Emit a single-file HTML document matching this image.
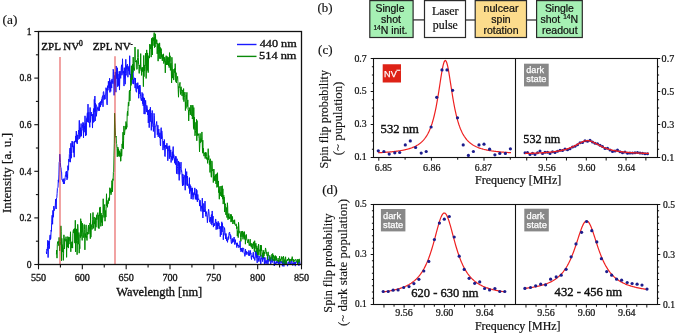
<!DOCTYPE html>
<html><head><meta charset="utf-8"><style>html,body{margin:0;padding:0;background:#fff;width:675px;height:333px;overflow:hidden;position:relative} text{stroke:#111;stroke-width:.22px} text.w{stroke:#fff;stroke-width:.25px}</style></head><body>
<svg width="675" height="333" viewBox="0 0 675 333" style="position:absolute;left:0;top:0;filter:blur(0.25px)">
<rect width="675" height="333" fill="#fff"/>
<polyline points="46.30,251.68 46.60,253.96 46.90,249.20 47.20,250.43 47.50,246.36 47.80,240.26 48.10,257.55 48.40,245.49 48.70,241.09 49.00,243.41 49.30,248.68 49.60,240.69 49.90,235.95 50.20,234.88 50.50,239.53 50.80,238.15 51.10,230.08 51.40,231.40 51.70,222.14 52.00,215.20 52.30,215.32 52.60,224.25 52.90,210.40 53.20,217.31 53.50,215.04 53.80,206.12 54.10,210.78 54.40,210.18 54.70,209.02 55.00,207.92 55.30,205.18 55.60,199.17 55.90,207.03 56.20,209.02 56.50,198.06 56.80,197.62 57.10,193.70 57.40,188.34 57.70,187.75 58.00,187.20 58.30,179.88 58.60,182.29 58.90,174.96 59.20,162.52 59.50,161.30 59.80,154.16 60.10,157.98 60.40,162.44 60.70,167.21 61.00,167.76 61.30,172.01 61.60,172.05 61.90,179.72 62.20,179.58 62.50,180.60 62.80,181.57 63.10,179.22 63.40,183.92 63.70,183.18 64.00,178.52 64.30,183.84 64.60,181.30 64.90,180.96 65.20,177.33 65.50,174.67 65.80,174.55 66.10,171.64 66.40,177.05 66.70,171.06 67.00,179.88 67.30,174.49 67.60,178.24 67.90,165.66 68.20,170.36 68.50,169.78 68.80,159.15 69.10,161.77 69.40,154.39 69.70,153.46 70.00,148.07 70.30,162.17 70.60,151.58 70.90,143.26 71.20,158.27 71.50,153.58 71.80,147.69 72.10,141.07 72.40,147.09 72.70,143.05 73.00,141.65 73.30,152.65 73.60,149.12 73.90,145.66 74.20,157.19 74.50,141.40 74.80,142.22 75.10,140.86 75.40,142.08 75.70,135.93 76.00,140.86 76.30,131.06 76.60,142.48 76.90,134.72 77.20,143.94 77.50,139.16 77.80,134.93 78.10,139.59 78.40,132.76 78.70,130.14 79.00,134.04 79.30,120.35 79.60,138.69 79.90,137.15 80.20,127.58 80.50,129.38 80.80,136.68 81.10,123.52 81.40,135.91 81.70,130.47 82.00,130.61 82.30,128.69 82.60,124.20 82.90,122.18 83.20,122.44 83.50,137.84 83.80,123.44 84.10,132.24 84.40,126.19 84.70,129.21 85.00,115.84 85.30,123.92 85.60,135.87 85.90,123.06 86.20,135.19 86.50,118.21 86.80,118.42 87.10,115.64 87.40,112.71 87.70,121.94 88.00,104.10 88.30,122.56 88.60,120.27 88.90,112.23 89.20,121.48 89.50,121.97 89.80,127.32 90.10,107.49 90.40,122.34 90.70,118.59 91.00,113.59 91.30,112.05 91.60,116.00 91.90,115.04 92.20,115.46 92.50,128.06 92.80,114.02 93.10,122.70 93.40,110.51 93.70,108.47 94.00,121.91 94.30,99.38 94.60,111.91 94.90,96.06 95.20,120.96 95.50,103.23 95.80,111.39 96.10,104.63 96.40,116.31 96.70,112.67 97.00,111.37 97.30,110.03 97.60,107.94 97.90,106.77 98.20,107.25 98.50,110.55 98.80,110.71 99.10,103.07 99.40,110.70 99.70,102.33 100.00,102.66 100.30,107.11 100.60,101.41 100.90,105.23 101.20,104.86 101.50,99.59 101.80,102.90 102.10,97.39 102.40,96.63 102.70,95.63 103.00,106.80 103.30,92.32 103.60,91.57 103.90,93.21 104.20,99.63 104.50,95.28 104.80,96.58 105.10,99.21 105.40,94.28 105.70,94.50 106.00,87.69 106.30,89.87 106.60,88.79 106.90,103.76 107.20,104.87 107.50,85.73 107.80,90.21 108.10,90.22 108.40,81.24 108.70,86.89 109.00,88.00 109.30,88.23 109.60,78.24 109.90,92.41 110.20,81.83 110.50,90.02 110.80,91.37 111.10,80.25 111.40,84.55 111.70,88.07 112.00,78.90 112.30,81.91 112.60,81.04 112.90,83.66 113.20,69.28 113.50,71.19 113.80,80.03 114.10,95.33 114.40,84.84 114.70,75.38 115.00,85.40 115.30,71.91 115.60,80.88 115.90,92.20 116.20,65.98 116.50,74.94 116.80,78.78 117.10,72.02 117.40,67.78 117.70,86.77 118.00,74.05 118.30,85.29 118.60,78.27 118.90,85.71 119.20,71.32 119.50,90.05 119.80,77.96 120.10,71.14 120.40,75.29 120.70,78.36 121.00,74.25 121.30,67.36 121.60,64.80 121.90,75.23 122.20,73.97 122.50,58.79 122.80,69.97 123.10,73.27 123.40,71.50 123.70,71.08 124.00,86.08 124.30,67.68 124.60,78.42 124.90,73.86 125.20,84.22 125.50,73.31 125.80,59.30 126.10,75.40 126.40,65.62 126.70,69.23 127.00,68.84 127.30,64.17 127.60,65.34 127.90,77.22 128.20,66.36 128.50,67.82 128.80,70.90 129.10,68.87 129.40,74.34 129.70,55.72 130.00,74.75 130.30,74.03 130.60,78.17 130.90,81.75 131.20,74.45 131.50,68.99 131.80,78.24 132.10,83.72 132.40,74.43 132.70,69.35 133.00,65.03 133.30,78.17 133.60,84.11 133.90,79.18 134.20,78.55 134.50,77.80 134.80,80.16 135.10,88.07 135.40,78.07 135.70,85.51 136.00,91.51 136.30,91.65 136.60,92.25 136.90,83.18 137.20,88.66 137.50,87.89 137.80,82.65 138.10,88.27 138.40,86.04 138.70,98.26 139.00,87.75 139.30,85.30 139.60,93.85 139.90,85.08 140.20,86.78 140.50,96.71 140.80,97.99 141.10,99.84 141.40,100.80 141.70,97.60 142.00,92.40 142.30,93.27 142.60,103.66 142.90,93.64 143.20,105.84 143.50,97.53 143.80,98.70 144.10,114.05 144.40,97.90 144.70,101.53 145.00,114.16 145.30,106.39 145.60,100.39 145.90,104.54 146.20,109.08 146.50,112.10 146.80,105.40 147.10,106.96 147.40,108.81 147.70,115.01 148.00,111.06 148.30,123.00 148.60,109.99 148.90,114.43 149.20,127.65 149.50,118.12 149.80,109.21 150.10,117.64 150.40,107.19 150.70,121.67 151.00,113.01 151.30,130.35 151.60,121.30 151.90,126.67 152.20,110.48 152.50,122.02 152.80,123.83 153.10,124.42 153.40,131.48 153.70,125.44 154.00,113.33 154.30,115.34 154.60,125.09 154.90,137.86 155.20,126.23 155.50,126.42 155.80,126.10 156.10,124.99 156.40,123.27 156.70,121.48 157.00,127.32 157.30,134.71 157.60,132.36 157.90,125.22 158.20,136.85 158.50,131.61 158.80,129.05 159.10,132.82 159.40,136.69 159.70,137.93 160.00,132.77 160.30,145.03 160.60,145.83 160.90,130.10 161.20,127.67 161.50,138.83 161.80,130.86 162.10,134.04 162.40,138.22 162.70,138.92 163.00,150.09 163.30,141.14 163.60,144.35 163.90,145.70 164.20,148.12 164.50,139.58 164.80,156.01 165.10,156.56 165.40,147.08 165.70,145.11 166.00,146.62 166.30,145.16 166.60,148.63 166.90,143.18 167.20,148.41 167.50,146.96 167.80,160.76 168.10,145.85 168.40,151.08 168.70,151.39 169.00,151.90 169.30,158.78 169.60,145.74 169.90,150.09 170.20,156.74 170.50,151.15 170.80,149.88 171.10,162.51 171.40,156.53 171.70,158.71 172.00,155.25 172.30,151.80 172.60,160.32 172.90,150.76 173.20,146.59 173.50,157.69 173.80,154.68 174.10,159.07 174.40,158.63 174.70,163.22 175.00,161.86 175.30,156.26 175.60,164.67 175.90,156.90 176.20,156.43 176.50,173.63 176.80,167.45 177.10,158.75 177.40,166.51 177.70,168.68 178.00,174.21 178.30,166.43 178.60,160.98 178.90,170.61 179.20,180.39 179.50,162.43 179.80,174.36 180.10,170.15 180.40,168.65 180.70,166.23 181.00,162.10 181.30,171.37 181.60,170.58 181.90,173.09 182.20,180.96 182.50,185.98 182.80,173.94 183.10,178.08 183.40,177.14 183.70,185.32 184.00,174.93 184.30,175.70 184.60,175.90 184.90,180.16 185.20,190.22 185.50,168.73 185.80,184.48 186.10,176.75 186.40,177.97 186.70,171.58 187.00,185.50 187.30,176.10 187.60,185.75 187.90,183.74 188.20,185.17 188.50,185.56 188.80,187.13 189.10,188.51 189.40,177.61 189.70,193.60 190.00,184.52 190.30,191.29 190.60,185.93 190.90,186.49 191.20,199.07 191.50,191.61 191.80,187.83 192.10,195.02 192.40,187.91 192.70,197.05 193.00,199.44 193.30,197.82 193.60,193.21 193.90,192.53 194.20,194.72 194.50,193.00 194.80,187.88 195.10,196.69 195.40,199.38 195.70,193.84 196.00,196.45 196.30,189.16 196.60,199.62 196.90,190.31 197.20,201.51 197.50,201.85 197.80,194.45 198.10,198.69 198.40,199.86 198.70,198.71 199.00,200.08 199.30,200.45 199.60,206.08 199.90,200.47 200.20,200.18 200.50,204.94 200.80,210.83 201.10,211.40 201.40,206.20 201.70,205.83 202.00,208.43 202.30,198.14 202.60,211.90 202.90,217.99 203.20,209.62 203.50,211.81 203.80,203.38 204.10,209.85 204.40,210.07 204.70,211.93 205.00,201.07 205.30,208.84 205.60,214.49 205.90,216.41 206.20,211.49 206.50,212.96 206.80,214.59 207.10,217.25 207.40,222.71 207.70,218.04 208.00,215.26 208.30,211.56 208.60,209.30 208.90,211.48 209.20,216.13 209.50,221.92 209.80,222.16 210.10,221.40 210.40,221.09 210.70,217.06 211.00,223.77 211.30,214.79 211.60,214.47 211.90,225.16 212.20,210.96 212.50,222.76 212.80,220.41 213.10,216.14 213.40,227.10 213.70,223.95 214.00,223.76 214.30,223.16 214.60,225.89 214.90,224.72 215.20,223.51 215.50,219.25 215.80,219.08 216.10,229.68 216.40,226.43 216.70,221.91 217.00,227.48 217.30,229.21 217.60,223.01 217.90,229.09 218.20,221.30 218.50,225.90 218.80,223.52 219.10,222.87 219.40,227.19 219.70,228.89 220.00,226.32 220.30,236.72 220.60,231.62 220.90,226.41 221.20,234.92 221.50,226.11 221.80,221.81 222.10,231.95 222.40,223.39 222.70,228.25 223.00,226.22 223.30,239.74 223.60,233.45 223.90,234.21 224.20,230.26 224.50,227.65 224.80,230.14 225.10,235.37 225.40,233.78 225.70,238.99 226.00,233.54 226.30,237.42 226.60,240.68 226.90,237.29 227.20,240.20 227.50,242.33 227.80,239.43 228.10,239.98 228.40,236.44 228.70,238.62 229.00,233.15 229.30,232.59 229.60,231.99 229.90,235.21 230.20,234.42 230.50,238.75 230.80,235.54 231.10,241.23 231.40,243.37 231.70,243.71 232.00,239.08 232.30,238.42 232.60,242.51 232.90,240.73 233.20,238.80 233.50,240.59 233.80,241.71 234.10,237.02 234.40,243.06 234.70,244.51 235.00,243.85 235.30,239.59 235.60,242.57 235.90,242.44 236.20,244.42 236.50,243.10 236.80,247.56 237.10,243.10 237.40,242.84 237.70,245.94 238.00,245.57 238.30,244.87 238.60,246.67 238.90,247.81 239.20,245.70 239.50,246.33 239.80,246.95 240.10,240.83 240.40,249.77 240.70,248.33 241.00,251.91 241.30,248.21 241.60,250.99 241.90,248.04 242.20,249.60 242.50,252.19 242.80,247.77 243.10,248.74 243.40,248.55 243.70,248.32 244.00,251.87 244.30,253.69 244.60,253.29 244.90,256.35 245.20,253.15 245.50,249.06 245.80,253.08 246.10,254.82 246.40,251.31 246.70,253.76 247.00,251.88 247.30,252.13 247.60,252.44 247.90,253.91 248.20,255.03 248.50,255.46 248.80,250.45 249.10,251.58 249.40,255.78 249.70,252.78 250.00,252.52 250.30,250.42 250.60,254.39 250.90,252.90 251.20,257.73 251.50,259.52 251.80,255.68 252.10,256.94 252.40,256.96 252.70,256.15 253.00,253.90 253.30,252.16 253.60,258.39 253.90,256.75 254.20,257.78 254.50,259.03 254.80,260.50 255.10,258.85 255.40,250.93 255.70,255.28 256.00,255.44 256.30,257.67 256.60,251.60 256.90,259.13 257.20,262.91 257.50,252.69 257.80,256.89 258.10,255.86 258.40,257.88 258.70,261.50 259.00,260.62 259.30,258.72 259.60,257.71 259.90,256.01 260.20,261.70 260.50,259.65 260.80,264.59 261.10,257.94 261.40,259.18 261.70,258.48 262.00,254.84 262.30,257.66 262.60,261.65 262.90,255.93 263.20,258.84 263.50,257.16 263.80,259.32 264.10,257.12 264.40,264.49 264.70,261.53 265.00,257.48 265.30,262.33 265.60,261.57 265.90,263.73 266.20,260.32 266.50,261.79 266.80,263.52 267.10,260.54 267.40,257.10 267.70,262.12 268.00,264.72 268.30,260.41 268.60,259.17 268.90,261.64 269.20,256.12 269.50,260.33 269.80,259.51 270.10,258.13 270.40,257.81 270.70,264.25 271.00,262.25 271.30,261.94 271.60,261.21 271.90,256.67 272.20,262.65 272.50,260.73 272.80,258.76 273.10,258.94 273.40,260.70 273.70,259.14 274.00,261.52 274.30,265.97 274.60,258.72 274.90,262.85 275.20,264.74 275.50,262.79 275.80,262.33 276.10,262.53 276.40,263.44 276.70,261.23 277.00,262.93 277.30,263.12 277.60,261.69 277.90,260.00 278.20,263.17 278.50,263.84 278.80,261.89 279.10,264.31 279.40,260.39 279.70,262.59 280.00,263.68 280.30,262.30 280.60,262.16 280.90,260.96 281.20,263.19 281.50,262.66 281.80,261.29 282.10,261.77 282.40,266.24 282.70,261.66 283.00,265.09 283.30,261.29 283.60,260.62 283.90,266.48 284.20,261.08 284.50,262.15 284.80,264.48 285.10,260.60 285.40,264.33 285.70,262.35 286.00,263.00 286.30,263.00 286.60,261.11 286.90,263.61 287.20,263.93 287.50,266.16 287.80,264.52 288.10,262.92 288.40,261.98 288.70,261.72 289.00,264.21 289.30,263.14 289.60,258.92 289.90,260.90 290.20,263.38 290.50,263.91 290.80,262.64 291.10,264.83 291.40,260.30 291.70,261.37 292.00,261.05 292.30,262.46 292.60,265.33 292.90,265.57 293.20,264.69 293.50,262.64 293.80,264.01 294.10,262.28 294.40,263.84 294.70,262.98 295.00,261.94 295.30,266.13 295.60,262.72 295.90,262.86 296.20,261.67 296.50,262.35 296.80,262.59 297.10,261.77 297.40,261.69 297.70,262.85 298.00,263.17 298.30,261.67 298.60,263.15 298.90,265.68 299.20,264.11 299.50,259.75 299.80,263.26 300.10,263.04 300.40,263.48" fill="none" stroke="#1010ff" stroke-width="1.0" stroke-linejoin="miter"/>
<polyline points="56.40,254.33 56.70,250.07 57.00,258.15 57.30,244.92 57.60,241.88 57.90,242.50 58.20,241.23 58.50,243.46 58.80,245.70 59.10,237.40 59.40,246.70 59.70,250.74 60.00,245.11 60.30,244.91 60.60,241.15 60.90,225.85 61.20,231.67 61.50,260.78 61.80,238.35 62.10,243.25 62.40,244.93 62.70,252.05 63.00,248.25 63.30,260.41 63.60,253.41 63.90,234.83 64.20,241.44 64.50,248.95 64.80,238.65 65.10,241.35 65.40,240.98 65.70,240.19 66.00,236.68 66.30,238.61 66.60,257.35 66.90,239.42 67.20,246.59 67.50,247.15 67.80,236.55 68.10,239.50 68.40,248.08 68.70,237.26 69.00,244.17 69.30,237.26 69.60,237.50 69.90,238.27 70.20,241.11 70.50,231.78 70.80,251.77 71.10,241.81 71.40,243.76 71.70,247.97 72.00,245.38 72.30,241.66 72.60,248.12 72.90,233.54 73.20,230.75 73.50,229.52 73.80,233.02 74.10,233.25 74.40,228.52 74.70,243.12 75.00,242.57 75.30,220.27 75.60,251.92 75.90,229.99 76.20,243.10 76.50,228.88 76.80,232.61 77.10,254.68 77.40,240.59 77.70,224.34 78.00,228.20 78.30,244.21 78.60,240.04 78.90,232.53 79.20,253.18 79.50,244.32 79.80,248.75 80.10,234.60 80.40,237.67 80.70,218.71 81.00,228.66 81.30,221.32 81.60,236.24 81.90,235.60 82.20,240.40 82.50,223.29 82.80,232.09 83.10,232.37 83.40,237.51 83.70,237.62 84.00,224.59 84.30,224.47 84.60,229.38 84.90,249.85 85.20,233.61 85.50,237.24 85.80,232.86 86.10,224.86 86.40,237.66 86.70,235.88 87.00,240.49 87.30,232.07 87.60,234.61 87.90,231.31 88.20,227.61 88.50,225.00 88.80,234.13 89.10,232.30 89.40,227.48 89.70,228.47 90.00,222.94 90.30,238.68 90.60,213.42 90.90,237.18 91.20,227.84 91.50,227.31 91.80,224.52 92.10,229.43 92.40,225.56 92.70,219.34 93.00,212.44 93.30,224.71 93.60,228.40 93.90,219.13 94.20,216.98 94.50,224.07 94.80,221.57 95.10,230.74 95.40,227.66 95.70,217.76 96.00,227.27 96.30,220.22 96.60,215.23 96.90,219.63 97.20,214.05 97.50,213.64 97.80,212.65 98.10,225.93 98.40,228.13 98.70,214.85 99.00,228.66 99.30,216.64 99.60,207.74 99.90,216.43 100.20,206.93 100.50,214.14 100.80,226.36 101.10,213.06 101.40,218.94 101.70,222.48 102.00,215.09 102.30,225.88 102.60,220.76 102.90,214.72 103.20,198.75 103.50,210.03 103.80,215.21 104.10,217.48 104.40,206.59 104.70,204.47 105.00,221.22 105.30,215.97 105.60,210.50 105.90,217.08 106.20,206.48 106.50,193.77 106.80,205.83 107.10,200.42 107.40,207.31 107.70,203.36 108.00,202.49 108.30,203.61 108.60,198.47 108.90,198.58 109.20,197.52 109.50,200.59 109.80,187.72 110.10,193.26 110.40,192.31 110.70,188.62 111.00,194.78 111.30,193.57 111.60,189.28 111.90,180.65 112.20,182.59 112.50,191.79 112.80,178.80 113.10,180.44 113.40,172.35 113.70,171.98 114.00,155.13 114.30,143.16 114.60,113.21 114.90,120.87 115.20,127.92 115.50,135.49 115.80,137.27 116.10,136.03 116.40,143.70 116.70,144.22 117.00,148.43 117.30,156.82 117.60,148.46 117.90,147.03 118.20,153.88 118.50,148.78 118.80,156.32 119.10,151.62 119.40,155.55 119.70,150.75 120.00,156.79 120.30,152.63 120.60,161.22 120.90,161.10 121.20,149.02 121.50,156.30 121.80,156.02 122.10,143.92 122.40,147.86 122.70,140.87 123.00,132.17 123.30,149.06 123.60,140.59 123.90,125.96 124.20,133.90 124.50,134.89 124.80,131.47 125.10,128.52 125.40,125.91 125.70,129.37 126.00,121.53 126.30,129.11 126.60,123.65 126.90,127.35 127.20,114.12 127.50,111.10 127.80,115.75 128.10,107.63 128.40,102.25 128.70,106.01 129.00,102.90 129.30,91.30 129.60,90.28 129.90,100.98 130.20,91.16 130.50,91.01 130.80,77.86 131.10,85.39 131.40,65.73 131.70,79.60 132.00,66.95 132.30,79.50 132.60,64.03 132.90,72.47 133.20,57.14 133.50,69.57 133.80,69.74 134.10,68.65 134.40,70.51 134.70,66.96 135.00,47.01 135.30,60.82 135.60,62.08 135.90,61.13 136.20,61.73 136.50,60.46 136.80,69.40 137.10,69.01 137.40,60.11 137.70,57.46 138.00,49.41 138.30,57.48 138.60,64.34 138.90,66.50 139.20,73.41 139.50,65.13 139.80,65.28 140.10,68.84 140.40,67.68 140.70,53.59 141.00,70.41 141.30,69.28 141.60,75.41 141.90,67.45 142.20,71.19 142.50,67.45 142.80,71.64 143.10,68.56 143.40,86.63 143.70,55.44 144.00,76.66 144.30,64.95 144.60,70.90 144.90,66.66 145.20,65.81 145.50,53.20 145.80,66.63 146.10,78.47 146.40,73.17 146.70,49.89 147.00,58.46 147.30,70.54 147.60,52.95 147.90,60.66 148.20,72.64 148.50,60.01 148.80,55.76 149.10,56.06 149.40,58.10 149.70,44.16 150.00,47.21 150.30,47.40 150.60,48.85 150.90,44.50 151.20,57.13 151.50,38.39 151.80,48.32 152.10,50.57 152.40,54.99 152.70,37.33 153.00,45.74 153.30,38.05 153.60,40.64 153.90,36.80 154.20,32.66 154.50,47.67 154.80,37.21 155.10,47.05 155.40,33.83 155.70,40.34 156.00,44.00 156.30,42.85 156.60,39.66 156.90,39.89 157.20,53.85 157.50,45.52 157.80,43.17 158.10,61.16 158.40,49.58 158.70,43.86 159.00,55.92 159.30,58.68 159.60,42.86 159.90,51.04 160.20,53.01 160.50,47.52 160.80,58.94 161.10,48.56 161.40,51.37 161.70,57.31 162.00,54.24 162.30,60.84 162.60,55.29 162.90,56.00 163.20,59.13 163.50,53.84 163.80,63.55 164.10,59.59 164.40,61.47 164.70,57.22 165.00,62.90 165.30,72.88 165.60,60.82 165.90,58.14 166.20,55.68 166.50,64.93 166.80,61.90 167.10,56.39 167.40,64.79 167.70,57.66 168.00,59.68 168.30,57.28 168.60,65.85 168.90,60.86 169.20,67.66 169.50,52.62 169.80,61.52 170.10,55.81 170.40,70.42 170.70,63.82 171.00,63.21 171.30,70.48 171.60,82.91 171.90,57.27 172.20,64.88 172.50,77.99 172.80,78.15 173.10,69.16 173.40,75.95 173.70,80.07 174.00,77.54 174.30,70.87 174.60,68.54 174.90,72.81 175.20,63.62 175.50,70.68 175.80,81.68 176.10,72.71 176.40,82.95 176.70,80.69 177.00,78.99 177.30,78.47 177.60,76.38 177.90,81.47 178.20,89.60 178.50,97.21 178.80,86.44 179.10,87.87 179.40,83.98 179.70,84.22 180.00,82.33 180.30,90.83 180.60,94.53 180.90,87.21 181.20,86.82 181.50,91.55 181.80,93.90 182.10,96.05 182.40,89.97 182.70,90.09 183.00,93.85 183.30,99.65 183.60,88.55 183.90,101.64 184.20,97.65 184.50,95.62 184.80,92.04 185.10,92.41 185.40,110.60 185.70,101.89 186.00,108.45 186.30,95.00 186.60,99.31 186.90,92.33 187.20,106.63 187.50,104.92 187.80,99.89 188.10,109.58 188.40,110.03 188.70,120.95 189.00,113.49 189.30,107.56 189.60,111.03 189.90,109.65 190.20,114.82 190.50,113.04 190.80,105.14 191.10,114.70 191.40,115.19 191.70,115.76 192.00,105.20 192.30,119.03 192.60,117.66 192.90,105.29 193.20,115.27 193.50,128.37 193.80,107.59 194.10,129.54 194.40,117.20 194.70,128.55 195.00,135.78 195.30,133.34 195.60,130.60 195.90,122.31 196.20,130.60 196.50,119.33 196.80,140.77 197.10,120.58 197.40,135.54 197.70,133.51 198.00,134.33 198.30,135.13 198.60,133.77 198.90,136.65 199.20,138.75 199.50,151.83 199.80,146.05 200.10,133.40 200.40,142.87 200.70,142.60 201.00,138.58 201.30,141.59 201.60,140.62 201.90,131.94 202.20,139.84 202.50,152.67 202.80,140.15 203.10,153.45 203.40,148.25 203.70,153.43 204.00,156.16 204.30,154.33 204.60,152.87 204.90,152.69 205.20,158.56 205.50,152.39 205.80,156.31 206.10,152.49 206.40,156.59 206.70,159.39 207.00,157.92 207.30,157.72 207.60,163.36 207.90,157.93 208.20,148.69 208.50,159.68 208.80,155.52 209.10,160.31 209.40,164.74 209.70,160.52 210.00,172.46 210.30,158.76 210.60,164.80 210.90,169.37 211.20,177.16 211.50,177.17 211.80,160.85 212.10,162.10 212.40,171.06 212.70,170.19 213.00,169.34 213.30,182.59 213.60,176.34 213.90,169.06 214.20,176.74 214.50,180.43 214.80,175.99 215.10,181.08 215.40,174.59 215.70,177.61 216.00,183.97 216.30,175.01 216.60,173.81 216.90,187.41 217.20,183.53 217.50,172.72 217.80,186.85 218.10,182.98 218.40,180.96 218.70,192.64 219.00,189.48 219.30,199.22 219.60,189.17 219.90,186.36 220.20,194.01 220.50,192.12 220.80,195.93 221.10,186.03 221.40,193.03 221.70,197.06 222.00,189.10 222.30,185.71 222.60,199.18 222.90,188.78 223.20,204.09 223.50,196.48 223.80,195.22 224.10,198.07 224.40,197.40 224.70,212.05 225.00,205.44 225.30,203.63 225.60,205.33 225.90,214.86 226.20,207.40 226.50,207.90 226.80,216.97 227.10,217.68 227.40,202.79 227.70,207.09 228.00,219.79 228.30,214.33 228.60,217.89 228.90,213.46 229.20,219.03 229.50,217.22 229.80,216.81 230.10,218.46 230.40,214.37 230.70,216.10 231.00,222.10 231.30,214.40 231.60,221.35 231.90,220.33 232.20,221.25 232.50,216.46 232.80,224.03 233.10,222.65 233.40,220.39 233.70,220.99 234.00,222.43 234.30,224.01 234.60,219.74 234.90,223.96 235.20,225.21 235.50,225.38 235.80,225.63 236.10,223.80 236.40,224.46 236.70,228.74 237.00,226.65 237.30,236.07 237.60,230.81 237.90,230.92 238.20,237.64 238.50,222.36 238.80,225.87 239.10,233.24 239.40,231.62 239.70,231.16 240.00,231.13 240.30,232.20 240.60,237.70 240.90,241.35 241.20,237.23 241.50,231.37 241.80,232.36 242.10,236.80 242.40,232.77 242.70,230.97 243.00,239.32 243.30,232.34 243.60,236.51 243.90,235.04 244.20,237.80 244.50,231.66 244.80,239.39 245.10,235.33 245.40,244.18 245.70,238.87 246.00,238.62 246.30,234.44 246.60,238.03 246.90,239.98 247.20,240.36 247.50,241.32 247.80,242.97 248.10,239.38 248.40,239.32 248.70,242.18 249.00,244.31 249.30,245.76 249.60,243.62 249.90,242.04 250.20,239.13 250.50,245.49 250.80,243.07 251.10,246.94 251.40,247.28 251.70,243.40 252.00,243.72 252.30,248.99 252.60,248.12 252.90,243.86 253.20,245.38 253.50,241.84 253.80,248.28 254.10,248.27 254.40,251.62 254.70,240.71 255.00,248.81 255.30,244.34 255.60,246.53 255.90,243.19 256.20,252.13 256.50,249.48 256.80,245.76 257.10,249.17 257.40,254.57 257.70,247.93 258.00,254.61 258.30,246.94 258.60,244.00 258.90,255.48 259.20,249.69 259.50,250.55 259.80,251.32 260.10,249.16 260.40,245.01 260.70,256.35 261.00,251.07 261.30,245.24 261.60,250.59 261.90,249.96 262.20,251.65 262.50,257.03 262.80,253.05 263.10,257.96 263.40,254.13 263.70,250.26 264.00,256.26 264.30,252.03 264.60,253.44 264.90,253.86 265.20,252.16 265.50,247.95 265.80,249.27 266.10,251.18 266.40,251.61 266.70,254.67 267.00,255.62 267.30,254.58 267.60,259.62 267.90,252.15 268.20,251.91 268.50,255.85 268.80,255.90 269.10,255.60 269.40,256.02 269.70,255.59 270.00,260.75 270.30,257.77 270.60,257.66 270.90,258.89 271.20,255.65 271.50,255.19 271.80,254.33 272.10,257.08 272.40,260.36 272.70,253.44 273.00,257.21 273.30,257.32 273.60,255.07 273.90,260.78 274.20,260.73 274.50,256.49 274.80,259.25 275.10,260.71 275.40,255.55 275.70,258.59 276.00,260.23 276.30,256.45 276.60,260.62 276.90,260.55 277.20,260.37 277.50,261.26 277.80,259.29 278.10,258.12 278.40,259.65 278.70,262.24 279.00,260.89 279.30,258.90 279.60,256.15 279.90,259.06 280.20,260.81 280.50,258.91 280.80,261.52 281.10,260.43 281.40,259.04 281.70,256.50 282.00,258.70 282.30,257.39 282.60,258.39 282.90,263.26 283.20,261.91 283.50,256.21 283.80,257.96 284.10,259.10 284.40,261.57 284.70,259.66 285.00,263.99 285.30,259.27 285.60,256.77 285.90,260.71 286.20,263.98 286.50,260.45 286.80,260.41 287.10,260.41 287.40,259.12 287.70,260.98 288.00,260.66 288.30,259.78 288.60,257.75 288.90,260.04 289.20,259.05 289.50,259.72 289.80,262.33 290.10,260.82 290.40,260.62 290.70,259.21 291.00,260.50 291.30,260.84 291.60,258.70 291.90,260.46 292.20,256.65 292.50,258.93 292.80,260.63 293.10,259.12 293.40,259.38 293.70,262.06 294.00,260.21 294.30,260.62 294.60,261.25 294.90,259.93 295.20,259.22 295.50,259.43 295.80,260.16 296.10,261.19 296.40,261.79 296.70,260.64 297.00,260.60 297.30,259.08 297.60,263.92 297.90,260.94 298.20,262.06 298.50,261.47 298.80,259.24 299.10,262.50 299.40,258.75" fill="none" stroke="#008a00" stroke-width="1.0" stroke-linejoin="miter"/>
<line x1="60.00" y1="57.00" x2="60.00" y2="264.50" stroke="rgba(222,45,45,0.8)" stroke-width="1.1" />
<line x1="115.00" y1="56.30" x2="115.00" y2="264.50" stroke="rgba(222,45,45,0.8)" stroke-width="1.1" />
<rect x="38.5" y="31.5" width="263.0" height="233.0" fill="none" stroke="#111" stroke-width="1.3"/>
<line x1="38.50" y1="264.50" x2="38.50" y2="269.30" stroke="#111" stroke-width="1.1" />
<text x="38.50" y="281.20" font-size="9.6" font-family='"Liberation Serif", serif' fill="#111" text-anchor="middle" textLength="15.2" lengthAdjust="spacingAndGlyphs" style="stroke-width:.3px">550</text>
<line x1="60.42" y1="264.50" x2="60.42" y2="267.50" stroke="#111" stroke-width="1.1" />
<line x1="82.33" y1="264.50" x2="82.33" y2="269.30" stroke="#111" stroke-width="1.1" />
<text x="82.33" y="281.20" font-size="9.6" font-family='"Liberation Serif", serif' fill="#111" text-anchor="middle" textLength="15.2" lengthAdjust="spacingAndGlyphs" style="stroke-width:.3px">600</text>
<line x1="104.25" y1="264.50" x2="104.25" y2="267.50" stroke="#111" stroke-width="1.1" />
<line x1="126.17" y1="264.50" x2="126.17" y2="269.30" stroke="#111" stroke-width="1.1" />
<text x="126.17" y="281.20" font-size="9.6" font-family='"Liberation Serif", serif' fill="#111" text-anchor="middle" textLength="15.2" lengthAdjust="spacingAndGlyphs" style="stroke-width:.3px">650</text>
<line x1="148.08" y1="264.50" x2="148.08" y2="267.50" stroke="#111" stroke-width="1.1" />
<line x1="170.00" y1="264.50" x2="170.00" y2="269.30" stroke="#111" stroke-width="1.1" />
<text x="170.00" y="281.20" font-size="9.6" font-family='"Liberation Serif", serif' fill="#111" text-anchor="middle" textLength="15.2" lengthAdjust="spacingAndGlyphs" style="stroke-width:.3px">700</text>
<line x1="191.92" y1="264.50" x2="191.92" y2="267.50" stroke="#111" stroke-width="1.1" />
<line x1="213.83" y1="264.50" x2="213.83" y2="269.30" stroke="#111" stroke-width="1.1" />
<text x="213.83" y="281.20" font-size="9.6" font-family='"Liberation Serif", serif' fill="#111" text-anchor="middle" textLength="15.2" lengthAdjust="spacingAndGlyphs" style="stroke-width:.3px">750</text>
<line x1="235.75" y1="264.50" x2="235.75" y2="267.50" stroke="#111" stroke-width="1.1" />
<line x1="257.67" y1="264.50" x2="257.67" y2="269.30" stroke="#111" stroke-width="1.1" />
<text x="257.67" y="281.20" font-size="9.6" font-family='"Liberation Serif", serif' fill="#111" text-anchor="middle" textLength="15.2" lengthAdjust="spacingAndGlyphs" style="stroke-width:.3px">800</text>
<line x1="279.58" y1="264.50" x2="279.58" y2="267.50" stroke="#111" stroke-width="1.1" />
<line x1="301.50" y1="264.50" x2="301.50" y2="269.30" stroke="#111" stroke-width="1.1" />
<text x="301.50" y="281.20" font-size="9.6" font-family='"Liberation Serif", serif' fill="#111" text-anchor="middle" textLength="15.2" lengthAdjust="spacingAndGlyphs" style="stroke-width:.3px">850</text>
<line x1="34.30" y1="264.50" x2="38.50" y2="264.50" stroke="#111" stroke-width="1.1" />
<text x="31.50" y="267.80" font-size="9.6" font-family='"Liberation Serif", serif' fill="#111" text-anchor="end" style="stroke-width:.3px">0</text>
<line x1="35.90" y1="241.20" x2="38.50" y2="241.20" stroke="#111" stroke-width="1.1" />
<line x1="34.30" y1="217.90" x2="38.50" y2="217.90" stroke="#111" stroke-width="1.1" />
<text x="31.50" y="221.20" font-size="9.6" font-family='"Liberation Serif", serif' fill="#111" text-anchor="end" style="stroke-width:.3px">0.2</text>
<line x1="35.90" y1="194.60" x2="38.50" y2="194.60" stroke="#111" stroke-width="1.1" />
<line x1="34.30" y1="171.30" x2="38.50" y2="171.30" stroke="#111" stroke-width="1.1" />
<text x="31.50" y="174.60" font-size="9.6" font-family='"Liberation Serif", serif' fill="#111" text-anchor="end" style="stroke-width:.3px">0.4</text>
<line x1="35.90" y1="148.00" x2="38.50" y2="148.00" stroke="#111" stroke-width="1.1" />
<line x1="34.30" y1="124.70" x2="38.50" y2="124.70" stroke="#111" stroke-width="1.1" />
<text x="31.50" y="128.00" font-size="9.6" font-family='"Liberation Serif", serif' fill="#111" text-anchor="end" style="stroke-width:.3px">0.6</text>
<line x1="35.90" y1="101.40" x2="38.50" y2="101.40" stroke="#111" stroke-width="1.1" />
<line x1="34.30" y1="78.10" x2="38.50" y2="78.10" stroke="#111" stroke-width="1.1" />
<text x="31.50" y="81.40" font-size="9.6" font-family='"Liberation Serif", serif' fill="#111" text-anchor="end" style="stroke-width:.3px">0.8</text>
<line x1="35.90" y1="54.80" x2="38.50" y2="54.80" stroke="#111" stroke-width="1.1" />
<line x1="34.30" y1="31.50" x2="38.50" y2="31.50" stroke="#111" stroke-width="1.1" />
<text x="31.50" y="34.80" font-size="9.6" font-family='"Liberation Serif", serif' fill="#111" text-anchor="end" style="stroke-width:.3px">1</text>
<text x="116.20" y="295.70" font-size="11.5" font-family='"Liberation Serif", serif' fill="#111" text-anchor="start" textLength="86" lengthAdjust="spacingAndGlyphs" style="stroke-width:.3px">Wavelength [nm]</text>
<text transform="translate(11.3,173) rotate(-90)" font-size="11.5" font-family='"Liberation Serif", serif' fill="#111" text-anchor="middle" textLength="80" lengthAdjust="spacingAndGlyphs">Intensity [a. u.]</text>
<text x="2.60" y="23.80" font-size="12" font-family='"Liberation Serif", serif' fill="#111" text-anchor="start" textLength="14.8" lengthAdjust="spacingAndGlyphs" style="stroke-width:.15px">(a)</text>
<text x="41.3" y="50.3" font-size="11" font-family='"Liberation Serif", serif' fill="#111" style="stroke-width:.4px">ZPL NV<tspan dy="-4.5" font-size="7.5">0</tspan></text>
<text x="92.8" y="50.3" font-size="11" font-family='"Liberation Serif", serif' fill="#111" style="stroke-width:.4px">ZPL NV<tspan dy="-4.2" font-size="6.5">-</tspan></text>
<line x1="237.00" y1="44.50" x2="256.50" y2="44.50" stroke="#1a1aff" stroke-width="1.4" />
<line x1="237.00" y1="56.40" x2="256.50" y2="56.40" stroke="#0a8a0a" stroke-width="1.4" />
<text x="259.70" y="47.20" font-size="11" font-family='"Liberation Serif", serif' fill="#111" text-anchor="start" textLength="37" lengthAdjust="spacingAndGlyphs" style="stroke-width:.35px">440 nm</text>
<text x="259.00" y="58.90" font-size="11" font-family='"Liberation Serif", serif' fill="#111" text-anchor="start" textLength="37.5" lengthAdjust="spacingAndGlyphs" style="stroke-width:.35px">514 nm</text>
<text x="317.50" y="11.50" font-size="12" font-family='"Liberation Serif", serif' fill="#111" text-anchor="start" textLength="15" lengthAdjust="spacingAndGlyphs" style="stroke-width:.15px">(b)</text>
<line x1="413.10" y1="19.90" x2="424.50" y2="19.90" stroke="#333" stroke-width="1.3" />
<line x1="465.50" y1="20.00" x2="475.30" y2="20.00" stroke="#333" stroke-width="1.3" />
<line x1="526.50" y1="20.00" x2="536.60" y2="20.00" stroke="#333" stroke-width="1.3" />
<rect x="369.80" y="0.6" width="43.30" height="36.9" fill="#a6f0b4" stroke="#2a2a2a" stroke-width="1.2"/>
<rect x="424.50" y="0.6" width="41.00" height="36.9" fill="#ffffff" stroke="#2a2a2a" stroke-width="1.2"/>
<rect x="475.20" y="0.6" width="51.30" height="36.9" fill="#fcdc8c" stroke="#2a2a2a" stroke-width="1.2"/>
<rect x="536.60" y="0.6" width="45.70" height="36.9" fill="#a6f0b4" stroke="#2a2a2a" stroke-width="1.2"/>
<text x="390.00" y="11.50" font-size="10.5" font-family='"Liberation Sans", sans-serif' fill="#111" text-anchor="middle" textLength="29" lengthAdjust="spacingAndGlyphs" >Single</text>
<text x="391.00" y="22.80" font-size="10.5" font-family='"Liberation Sans", sans-serif' fill="#111" text-anchor="middle" >shot</text>
<text x="390.5" y="33.6" font-size="10.5" font-family='"Liberation Sans", sans-serif' fill="#111" text-anchor="middle"><tspan font-size="6.5" dy="-3.5">14</tspan><tspan dy="3.5">N init.</tspan></text>
<text x="445.20" y="14.50" font-size="12" font-family='"Liberation Serif", serif' fill="#111" text-anchor="middle" textLength="26.6" lengthAdjust="spacingAndGlyphs" >Laser</text>
<text x="445.30" y="29.00" font-size="12" font-family='"Liberation Serif", serif' fill="#111" text-anchor="middle" textLength="25" lengthAdjust="spacingAndGlyphs" >pulse</text>
<text x="501.00" y="11.50" font-size="10.5" font-family='"Liberation Sans", sans-serif' fill="#111" text-anchor="middle" textLength="35" lengthAdjust="spacingAndGlyphs" >nulcear</text>
<text x="501.00" y="22.80" font-size="10.5" font-family='"Liberation Sans", sans-serif' fill="#111" text-anchor="middle" >spin</text>
<text x="501.00" y="33.60" font-size="10.5" font-family='"Liberation Sans", sans-serif' fill="#111" text-anchor="middle" >rotation</text>
<text x="559.40" y="11.50" font-size="10.5" font-family='"Liberation Sans", sans-serif' fill="#111" text-anchor="middle" textLength="29" lengthAdjust="spacingAndGlyphs" >Single</text>
<text x="559.2" y="22.8" font-size="10.5" font-family='"Liberation Sans", sans-serif' fill="#111" text-anchor="middle">shot <tspan font-size="6.5" dy="-3.5">14</tspan><tspan dy="3.5">N</tspan></text>
<text x="559.80" y="33.60" font-size="10.5" font-family='"Liberation Sans", sans-serif' fill="#111" text-anchor="middle" textLength="35.7" lengthAdjust="spacingAndGlyphs" >readout</text>
<text x="318.10" y="53.60" font-size="12" font-family='"Liberation Serif", serif' fill="#111" text-anchor="start" textLength="14.4" lengthAdjust="spacingAndGlyphs" style="stroke-width:.15px">(c)</text>
<rect x="373.5" y="58.5" width="284.0" height="99.0" fill="none" stroke="#111" stroke-width="1.1"/>
<line x1="515.50" y1="58.50" x2="515.50" y2="157.50" stroke="#111" stroke-width="1.1" />
<line x1="370.70" y1="157.50" x2="373.50" y2="157.50" stroke="#111" stroke-width="1.0" />
<line x1="657.50" y1="157.50" x2="660.30" y2="157.50" stroke="#111" stroke-width="1.0" />
<text x="366.70" y="159.90" font-size="9.6" font-family='"Liberation Serif", serif' fill="#111" text-anchor="end" textLength="12.3" lengthAdjust="spacingAndGlyphs" >0.1</text>
<text x="661.60" y="161.40" font-size="9.6" font-family='"Liberation Serif", serif' fill="#111" text-anchor="start" textLength="12.6" lengthAdjust="spacingAndGlyphs" >0.1</text>
<line x1="371.90" y1="149.25" x2="373.50" y2="149.25" stroke="#111" stroke-width="1.0" />
<line x1="657.50" y1="149.25" x2="659.10" y2="149.25" stroke="#111" stroke-width="1.0" />
<line x1="371.90" y1="141.00" x2="373.50" y2="141.00" stroke="#111" stroke-width="1.0" />
<line x1="657.50" y1="141.00" x2="659.10" y2="141.00" stroke="#111" stroke-width="1.0" />
<line x1="371.90" y1="132.75" x2="373.50" y2="132.75" stroke="#111" stroke-width="1.0" />
<line x1="657.50" y1="132.75" x2="659.10" y2="132.75" stroke="#111" stroke-width="1.0" />
<line x1="370.70" y1="124.50" x2="373.50" y2="124.50" stroke="#111" stroke-width="1.0" />
<line x1="657.50" y1="124.50" x2="660.30" y2="124.50" stroke="#111" stroke-width="1.0" />
<text x="366.70" y="126.90" font-size="9.6" font-family='"Liberation Serif", serif' fill="#111" text-anchor="end" textLength="12.3" lengthAdjust="spacingAndGlyphs" >0.3</text>
<text x="661.60" y="128.40" font-size="9.6" font-family='"Liberation Serif", serif' fill="#111" text-anchor="start" textLength="12.6" lengthAdjust="spacingAndGlyphs" >0.3</text>
<line x1="371.90" y1="116.25" x2="373.50" y2="116.25" stroke="#111" stroke-width="1.0" />
<line x1="657.50" y1="116.25" x2="659.10" y2="116.25" stroke="#111" stroke-width="1.0" />
<line x1="371.90" y1="108.00" x2="373.50" y2="108.00" stroke="#111" stroke-width="1.0" />
<line x1="657.50" y1="108.00" x2="659.10" y2="108.00" stroke="#111" stroke-width="1.0" />
<line x1="371.90" y1="99.75" x2="373.50" y2="99.75" stroke="#111" stroke-width="1.0" />
<line x1="657.50" y1="99.75" x2="659.10" y2="99.75" stroke="#111" stroke-width="1.0" />
<line x1="370.70" y1="91.50" x2="373.50" y2="91.50" stroke="#111" stroke-width="1.0" />
<line x1="657.50" y1="91.50" x2="660.30" y2="91.50" stroke="#111" stroke-width="1.0" />
<text x="366.70" y="93.90" font-size="9.6" font-family='"Liberation Serif", serif' fill="#111" text-anchor="end" textLength="12.3" lengthAdjust="spacingAndGlyphs" >0.5</text>
<text x="661.60" y="95.40" font-size="9.6" font-family='"Liberation Serif", serif' fill="#111" text-anchor="start" textLength="12.6" lengthAdjust="spacingAndGlyphs" >0.5</text>
<line x1="371.90" y1="83.25" x2="373.50" y2="83.25" stroke="#111" stroke-width="1.0" />
<line x1="657.50" y1="83.25" x2="659.10" y2="83.25" stroke="#111" stroke-width="1.0" />
<line x1="371.90" y1="75.00" x2="373.50" y2="75.00" stroke="#111" stroke-width="1.0" />
<line x1="657.50" y1="75.00" x2="659.10" y2="75.00" stroke="#111" stroke-width="1.0" />
<line x1="371.90" y1="66.75" x2="373.50" y2="66.75" stroke="#111" stroke-width="1.0" />
<line x1="657.50" y1="66.75" x2="659.10" y2="66.75" stroke="#111" stroke-width="1.0" />
<line x1="370.70" y1="58.50" x2="373.50" y2="58.50" stroke="#111" stroke-width="1.0" />
<line x1="657.50" y1="58.50" x2="660.30" y2="58.50" stroke="#111" stroke-width="1.0" />
<text x="366.70" y="62.00" font-size="9.6" font-family='"Liberation Serif", serif' fill="#111" text-anchor="end" textLength="12.3" lengthAdjust="spacingAndGlyphs" >0.7</text>
<text x="661.60" y="62.40" font-size="9.6" font-family='"Liberation Serif", serif' fill="#111" text-anchor="start" textLength="12.6" lengthAdjust="spacingAndGlyphs" >0.7</text>
<line x1="378.80" y1="157.50" x2="378.80" y2="160.70" stroke="#111" stroke-width="1.0" />
<line x1="405.10" y1="157.50" x2="405.10" y2="159.70" stroke="#111" stroke-width="1.0" />
<line x1="431.40" y1="157.50" x2="431.40" y2="160.70" stroke="#111" stroke-width="1.0" />
<line x1="457.70" y1="157.50" x2="457.70" y2="159.70" stroke="#111" stroke-width="1.0" />
<line x1="484.00" y1="157.50" x2="484.00" y2="160.70" stroke="#111" stroke-width="1.0" />
<line x1="510.30" y1="157.50" x2="510.30" y2="159.70" stroke="#111" stroke-width="1.0" />
<text x="383.40" y="171.00" font-size="9.6" font-family='"Liberation Serif", serif' fill="#111" text-anchor="middle" textLength="17.2" lengthAdjust="spacingAndGlyphs" >6.85</text>
<text x="431.70" y="171.00" font-size="9.6" font-family='"Liberation Serif", serif' fill="#111" text-anchor="middle" textLength="17.5" lengthAdjust="spacingAndGlyphs" >6.86</text>
<text x="483.30" y="171.00" font-size="9.6" font-family='"Liberation Serif", serif' fill="#111" text-anchor="middle" textLength="17" lengthAdjust="spacingAndGlyphs" >6.87</text>
<line x1="526.72" y1="157.50" x2="526.72" y2="160.50" stroke="#111" stroke-width="1.0" />
<line x1="546.58" y1="157.50" x2="546.58" y2="160.50" stroke="#111" stroke-width="1.0" />
<line x1="566.44" y1="157.50" x2="566.44" y2="160.50" stroke="#111" stroke-width="1.0" />
<line x1="586.30" y1="157.50" x2="586.30" y2="160.50" stroke="#111" stroke-width="1.0" />
<line x1="606.16" y1="157.50" x2="606.16" y2="160.50" stroke="#111" stroke-width="1.0" />
<line x1="626.02" y1="157.50" x2="626.02" y2="160.50" stroke="#111" stroke-width="1.0" />
<line x1="645.88" y1="157.50" x2="645.88" y2="160.50" stroke="#111" stroke-width="1.0" />
<text x="547.08" y="171.00" font-size="9.6" font-family='"Liberation Serif", serif' fill="#111" text-anchor="middle" textLength="17.5" lengthAdjust="spacingAndGlyphs" >9.56</text>
<text x="586.80" y="171.00" font-size="9.6" font-family='"Liberation Serif", serif' fill="#111" text-anchor="middle" textLength="17.5" lengthAdjust="spacingAndGlyphs" >9.60</text>
<text x="626.52" y="171.00" font-size="9.6" font-family='"Liberation Serif", serif' fill="#111" text-anchor="middle" textLength="17.5" lengthAdjust="spacingAndGlyphs" >9.64</text>
<text x="475.10" y="184.00" font-size="11.5" font-family='"Liberation Serif", serif' fill="#111" text-anchor="start" textLength="86.2" lengthAdjust="spacingAndGlyphs" >Frequency [MHz]</text>
<text transform="translate(327.8,119.3) rotate(-90)" font-size="11.5" font-family='"Liberation Serif", serif' fill="#111" text-anchor="middle" style="stroke-width:.12px" textLength="98.6" lengthAdjust="spacingAndGlyphs">Spin flip probability</text>
<text transform="translate(341.6,118.4) rotate(-90)" font-size="11.5" font-family='"Liberation Serif", serif' fill="#111" text-anchor="middle" style="stroke-width:.12px" textLength="73.5" lengthAdjust="spacingAndGlyphs">(~ pupulation)</text>
<rect x="382.7" y="64.25" width="18.3" height="18.25" fill="#de2216"/>
<text class="w" x="384.1" y="76.8" font-size="9.5" font-family='"Liberation Sans", sans-serif' fill="#fff" textLength="12.6" lengthAdjust="spacingAndGlyphs">NV</text>
<rect x="396.4" y="69.7" width="3.8" height="1.1" fill="#fff"/>
<rect x="524.0" y="63.7" width="24.7" height="22.7" fill="#888888"/>
<text x="526.30" y="73.00" font-size="9.2" font-family='"Liberation Sans", sans-serif' fill="#fff" text-anchor="start" textLength="17.7" lengthAdjust="spacingAndGlyphs" class="w">dark</text>
<text x="526.30" y="81.60" font-size="9.2" font-family='"Liberation Sans", sans-serif' fill="#fff" text-anchor="start" textLength="20.1" lengthAdjust="spacingAndGlyphs" class="w">state</text>
<text x="380.60" y="132.60" font-size="12" font-family='"Liberation Serif", serif' fill="#111" text-anchor="start" textLength="38.3" lengthAdjust="spacingAndGlyphs" style="stroke-width:.38px">532 nm</text>
<text x="523.30" y="142.50" font-size="12" font-family='"Liberation Serif", serif' fill="#111" text-anchor="start" textLength="37.0" lengthAdjust="spacingAndGlyphs" style="stroke-width:.38px">532 nm</text>
<polyline points="378.00,152.77 378.67,152.73 379.34,152.70 380.01,152.66 380.67,152.62 381.34,152.58 382.01,152.54 382.68,152.50 383.35,152.46 384.02,152.41 384.68,152.37 385.35,152.32 386.02,152.27 386.69,152.22 387.36,152.17 388.03,152.11 388.69,152.06 389.36,152.00 390.03,151.94 390.70,151.88 391.37,151.81 392.04,151.75 392.70,151.68 393.37,151.61 394.04,151.53 394.71,151.46 395.38,151.38 396.05,151.29 396.71,151.21 397.38,151.12 398.05,151.02 398.72,150.92 399.39,150.82 400.06,150.72 400.72,150.61 401.39,150.49 402.06,150.37 402.73,150.25 403.40,150.11 404.07,149.98 404.73,149.83 405.40,149.68 406.07,149.53 406.74,149.36 407.41,149.19 408.08,149.00 408.74,148.81 409.41,148.61 410.08,148.40 410.75,148.18 411.42,147.94 412.09,147.69 412.75,147.43 413.42,147.15 414.09,146.86 414.76,146.55 415.43,146.22 416.10,145.87 416.76,145.50 417.43,145.11 418.10,144.69 418.77,144.24 419.44,143.76 420.11,143.25 420.77,142.71 421.44,142.12 422.11,141.50 422.78,140.83 423.45,140.11 424.12,139.33 424.78,138.50 425.45,137.60 426.12,136.63 426.79,135.58 427.46,134.44 428.13,133.21 428.79,131.87 429.46,130.42 430.13,128.84 430.80,127.12 431.47,125.25 432.14,123.22 432.80,121.01 433.47,118.60 434.14,115.98 434.81,113.14 435.48,110.07 436.15,106.76 436.81,103.21 437.48,99.42 438.15,95.41 438.82,91.22 439.49,86.90 440.16,82.51 440.82,78.17 441.49,73.98 442.16,70.10 442.83,66.68 443.50,63.89 444.17,61.86 444.83,60.72 445.50,60.52 446.17,61.30 446.84,62.99 447.51,65.50 448.18,68.69 448.84,72.41 449.51,76.49 450.18,80.79 450.85,85.17 451.52,89.53 452.19,93.78 452.85,97.87 453.52,101.74 454.19,105.39 454.86,108.80 455.53,111.96 456.20,114.89 456.86,117.59 457.53,120.08 458.20,122.37 458.87,124.47 459.54,126.40 460.21,128.18 460.87,129.81 461.54,131.31 462.21,132.69 462.88,133.96 463.55,135.14 464.22,136.22 464.88,137.22 465.55,138.15 466.22,139.01 466.89,139.81 467.56,140.55 468.23,141.24 468.89,141.88 469.56,142.48 470.23,143.04 470.90,143.56 471.57,144.05 472.24,144.51 472.90,144.94 473.57,145.35 474.24,145.73 474.91,146.08 475.58,146.42 476.25,146.74 476.91,147.04 477.58,147.32 478.25,147.59 478.92,147.84 479.59,148.09 480.26,148.31 480.92,148.53 481.59,148.73 482.26,148.93 482.93,149.12 483.60,149.29 484.27,149.46 484.93,149.62 485.60,149.78 486.27,149.92 486.94,150.06 487.61,150.20 488.28,150.32 488.94,150.45 489.61,150.56 490.28,150.67 490.95,150.78 491.62,150.89 492.29,150.98 492.95,151.08 493.62,151.17 494.29,151.26 494.96,151.34 495.63,151.42 496.30,151.50 496.96,151.58 497.63,151.65 498.30,151.72 498.97,151.79 499.64,151.85 500.31,151.92 500.97,151.98 501.64,152.04 502.31,152.09 502.98,152.15 503.65,152.20 504.32,152.25 504.98,152.30 505.65,152.35 506.32,152.40 506.99,152.44 507.66,152.48 508.33,152.53 508.99,152.57 509.66,152.61 510.33,152.65 511.00,152.68" fill="none" stroke="#ee2020" stroke-width="1.2"/>
<circle cx="378.3" cy="150.8" r="1.6" fill="#1c1c8c"/>
<circle cx="383.9" cy="151.5" r="1.6" fill="#1c1c8c"/>
<circle cx="389.2" cy="154.1" r="1.6" fill="#1c1c8c"/>
<circle cx="394.8" cy="152.8" r="1.6" fill="#1c1c8c"/>
<circle cx="399.7" cy="152.5" r="1.6" fill="#1c1c8c"/>
<circle cx="405.3" cy="144.9" r="1.6" fill="#1c1c8c"/>
<circle cx="410.3" cy="140.9" r="1.6" fill="#1c1c8c"/>
<circle cx="415.6" cy="147.5" r="1.6" fill="#1c1c8c"/>
<circle cx="421.2" cy="153.1" r="1.6" fill="#1c1c8c"/>
<circle cx="426.2" cy="151.5" r="1.6" fill="#1c1c8c"/>
<circle cx="431.1" cy="127" r="1.6" fill="#1c1c8c"/>
<circle cx="436.7" cy="97.3" r="1.6" fill="#1c1c8c"/>
<circle cx="442" cy="69.9" r="1.6" fill="#1c1c8c"/>
<circle cx="447" cy="69.9" r="1.6" fill="#1c1c8c"/>
<circle cx="452.6" cy="90.3" r="1.6" fill="#1c1c8c"/>
<circle cx="457.5" cy="117.8" r="1.6" fill="#1c1c8c"/>
<circle cx="463.2" cy="144.9" r="1.6" fill="#1c1c8c"/>
<circle cx="468.4" cy="155.4" r="1.6" fill="#1c1c8c"/>
<circle cx="473.4" cy="151.5" r="1.6" fill="#1c1c8c"/>
<circle cx="479" cy="144.9" r="1.6" fill="#1c1c8c"/>
<circle cx="484" cy="144.2" r="1.6" fill="#1c1c8c"/>
<circle cx="489.6" cy="149.2" r="1.6" fill="#1c1c8c"/>
<circle cx="494.9" cy="154.8" r="1.6" fill="#1c1c8c"/>
<circle cx="499.8" cy="153.4" r="1.6" fill="#1c1c8c"/>
<circle cx="505.4" cy="153.4" r="1.6" fill="#1c1c8c"/>
<circle cx="510.4" cy="148.8" r="1.6" fill="#1c1c8c"/>
<circle cx="525.00" cy="152.87" r="1.5" fill="#1c1c8c"/>
<circle cx="527.50" cy="152.53" r="1.5" fill="#1c1c8c"/>
<circle cx="530.00" cy="154.40" r="1.5" fill="#1c1c8c"/>
<circle cx="532.50" cy="153.17" r="1.5" fill="#1c1c8c"/>
<circle cx="535.00" cy="154.57" r="1.5" fill="#1c1c8c"/>
<circle cx="537.50" cy="152.86" r="1.5" fill="#1c1c8c"/>
<circle cx="540.00" cy="151.01" r="1.5" fill="#1c1c8c"/>
<circle cx="542.50" cy="153.42" r="1.5" fill="#1c1c8c"/>
<circle cx="545.00" cy="152.28" r="1.5" fill="#1c1c8c"/>
<circle cx="547.50" cy="152.18" r="1.5" fill="#1c1c8c"/>
<circle cx="550.00" cy="153.40" r="1.5" fill="#1c1c8c"/>
<circle cx="552.50" cy="151.66" r="1.5" fill="#1c1c8c"/>
<circle cx="555.00" cy="152.49" r="1.5" fill="#1c1c8c"/>
<circle cx="557.50" cy="151.18" r="1.5" fill="#1c1c8c"/>
<circle cx="560.00" cy="150.14" r="1.5" fill="#1c1c8c"/>
<circle cx="562.50" cy="150.62" r="1.5" fill="#1c1c8c"/>
<circle cx="565.00" cy="149.10" r="1.5" fill="#1c1c8c"/>
<circle cx="567.50" cy="149.80" r="1.5" fill="#1c1c8c"/>
<circle cx="570.00" cy="148.69" r="1.5" fill="#1c1c8c"/>
<circle cx="572.50" cy="146.92" r="1.5" fill="#1c1c8c"/>
<circle cx="575.00" cy="146.15" r="1.5" fill="#1c1c8c"/>
<circle cx="577.50" cy="144.80" r="1.5" fill="#1c1c8c"/>
<circle cx="580.00" cy="142.79" r="1.5" fill="#1c1c8c"/>
<circle cx="582.50" cy="142.54" r="1.5" fill="#1c1c8c"/>
<circle cx="585.00" cy="140.80" r="1.5" fill="#1c1c8c"/>
<circle cx="587.50" cy="141.16" r="1.5" fill="#1c1c8c"/>
<circle cx="590.00" cy="140.22" r="1.5" fill="#1c1c8c"/>
<circle cx="592.50" cy="141.90" r="1.5" fill="#1c1c8c"/>
<circle cx="595.00" cy="143.35" r="1.5" fill="#1c1c8c"/>
<circle cx="597.50" cy="143.72" r="1.5" fill="#1c1c8c"/>
<circle cx="600.00" cy="145.33" r="1.5" fill="#1c1c8c"/>
<circle cx="602.50" cy="146.44" r="1.5" fill="#1c1c8c"/>
<circle cx="605.00" cy="148.50" r="1.5" fill="#1c1c8c"/>
<circle cx="607.50" cy="148.25" r="1.5" fill="#1c1c8c"/>
<circle cx="610.00" cy="149.93" r="1.5" fill="#1c1c8c"/>
<circle cx="612.50" cy="151.43" r="1.5" fill="#1c1c8c"/>
<circle cx="615.00" cy="151.03" r="1.5" fill="#1c1c8c"/>
<circle cx="617.50" cy="149.90" r="1.5" fill="#1c1c8c"/>
<circle cx="620.00" cy="151.66" r="1.5" fill="#1c1c8c"/>
<circle cx="622.50" cy="152.71" r="1.5" fill="#1c1c8c"/>
<circle cx="625.00" cy="151.92" r="1.5" fill="#1c1c8c"/>
<circle cx="627.50" cy="153.27" r="1.5" fill="#1c1c8c"/>
<circle cx="630.00" cy="153.07" r="1.5" fill="#1c1c8c"/>
<circle cx="632.50" cy="153.08" r="1.5" fill="#1c1c8c"/>
<circle cx="635.00" cy="152.69" r="1.5" fill="#1c1c8c"/>
<circle cx="637.50" cy="152.62" r="1.5" fill="#1c1c8c"/>
<circle cx="640.00" cy="152.94" r="1.5" fill="#1c1c8c"/>
<circle cx="642.50" cy="153.29" r="1.5" fill="#1c1c8c"/>
<circle cx="645.00" cy="153.75" r="1.5" fill="#1c1c8c"/>
<circle cx="647.50" cy="153.75" r="1.5" fill="#1c1c8c"/>
<polyline points="525.00,153.47 525.62,153.46 526.25,153.44 526.87,153.42 527.49,153.40 528.12,153.38 528.74,153.36 529.36,153.34 529.98,153.32 530.61,153.30 531.23,153.28 531.85,153.26 532.48,153.24 533.10,153.21 533.72,153.19 534.35,153.16 534.97,153.14 535.59,153.11 536.22,153.08 536.84,153.05 537.46,153.02 538.09,152.99 538.71,152.96 539.33,152.93 539.95,152.89 540.58,152.86 541.20,152.82 541.82,152.78 542.45,152.75 543.07,152.71 543.69,152.66 544.32,152.62 544.94,152.58 545.56,152.53 546.19,152.48 546.81,152.43 547.43,152.38 548.06,152.33 548.68,152.27 549.30,152.21 549.92,152.15 550.55,152.09 551.17,152.02 551.79,151.96 552.42,151.88 553.04,151.81 553.66,151.73 554.29,151.65 554.91,151.57 555.53,151.48 556.16,151.39 556.78,151.30 557.40,151.20 558.03,151.10 558.65,150.99 559.27,150.88 559.89,150.76 560.52,150.64 561.14,150.51 561.76,150.38 562.39,150.24 563.01,150.09 563.63,149.94 564.26,149.78 564.88,149.61 565.50,149.43 566.13,149.25 566.75,149.06 567.37,148.86 567.99,148.65 568.62,148.44 569.24,148.21 569.86,147.97 570.49,147.73 571.11,147.47 571.73,147.21 572.36,146.93 572.98,146.65 573.60,146.35 574.23,146.05 574.85,145.74 575.47,145.42 576.10,145.10 576.72,144.77 577.34,144.43 577.96,144.10 578.59,143.76 579.21,143.43 579.83,143.10 580.46,142.78 581.08,142.47 581.70,142.17 582.33,141.90 582.95,141.64 583.57,141.40 584.20,141.20 584.82,141.02 585.44,140.88 586.07,140.77 586.69,140.70 587.31,140.67 587.93,140.68 588.56,140.73 589.18,140.81 589.80,140.93 590.43,141.09 591.05,141.28 591.67,141.49 592.30,141.74 592.92,142.00 593.54,142.29 594.17,142.59 594.79,142.91 595.41,143.23 596.04,143.56 596.66,143.90 597.28,144.23 597.90,144.57 598.53,144.90 599.15,145.23 599.77,145.55 600.40,145.86 601.02,146.17 601.64,146.47 602.27,146.76 602.89,147.04 603.51,147.31 604.14,147.57 604.76,147.83 605.38,148.07 606.01,148.30 606.63,148.52 607.25,148.74 607.87,148.94 608.50,149.14 609.12,149.32 609.74,149.50 610.37,149.68 610.99,149.84 611.61,150.00 612.24,150.15 612.86,150.29 613.48,150.43 614.11,150.56 614.73,150.69 615.35,150.81 615.97,150.92 616.60,151.03 617.22,151.14 617.84,151.24 618.47,151.34 619.09,151.43 619.71,151.52 620.34,151.60 620.96,151.69 621.58,151.76 622.21,151.84 622.83,151.91 623.45,151.98 624.08,152.05 624.70,152.11 625.32,152.18 625.94,152.23 626.57,152.29 627.19,152.35 627.81,152.40 628.44,152.45 629.06,152.50 629.68,152.55 630.31,152.59 630.93,152.64 631.55,152.68 632.18,152.72 632.80,152.76 633.42,152.80 634.05,152.84 634.67,152.87 635.29,152.91 635.91,152.94 636.54,152.97 637.16,153.00 637.78,153.03 638.41,153.06 639.03,153.09 639.65,153.12 640.28,153.15 640.90,153.17 641.52,153.20 642.15,153.22 642.77,153.24 643.39,153.27 644.02,153.29 644.64,153.31 645.26,153.33 645.88,153.35 646.51,153.37 647.13,153.39 647.75,153.41 648.38,153.43 649.00,153.45" fill="none" stroke="#ee2020" stroke-width="1.3"/>
<text x="322.20" y="194.00" font-size="12" font-family='"Liberation Serif", serif' fill="#111" text-anchor="start" textLength="15.5" lengthAdjust="spacingAndGlyphs" style="stroke-width:.15px">(d)</text>
<rect x="373.5" y="204.5" width="284.0" height="100.0" fill="none" stroke="#111" stroke-width="1.1"/>
<line x1="515.50" y1="204.50" x2="515.50" y2="304.50" stroke="#111" stroke-width="1.1" />
<line x1="370.70" y1="304.50" x2="373.50" y2="304.50" stroke="#111" stroke-width="1.0" />
<line x1="657.50" y1="304.50" x2="660.30" y2="304.50" stroke="#111" stroke-width="1.0" />
<text x="366.60" y="307.10" font-size="9.6" font-family='"Liberation Serif", serif' fill="#111" text-anchor="end" textLength="11.6" lengthAdjust="spacingAndGlyphs" >0.1</text>
<text x="663.00" y="308.10" font-size="9.6" font-family='"Liberation Serif", serif' fill="#111" text-anchor="start" textLength="12.0" lengthAdjust="spacingAndGlyphs" >0.1</text>
<line x1="371.90" y1="298.25" x2="373.50" y2="298.25" stroke="#111" stroke-width="1.0" />
<line x1="657.50" y1="298.25" x2="659.10" y2="298.25" stroke="#111" stroke-width="1.0" />
<line x1="371.90" y1="292.00" x2="373.50" y2="292.00" stroke="#111" stroke-width="1.0" />
<line x1="657.50" y1="292.00" x2="659.10" y2="292.00" stroke="#111" stroke-width="1.0" />
<line x1="371.90" y1="285.75" x2="373.50" y2="285.75" stroke="#111" stroke-width="1.0" />
<line x1="657.50" y1="285.75" x2="659.10" y2="285.75" stroke="#111" stroke-width="1.0" />
<line x1="371.90" y1="279.50" x2="373.50" y2="279.50" stroke="#111" stroke-width="1.0" />
<line x1="657.50" y1="279.50" x2="659.10" y2="279.50" stroke="#111" stroke-width="1.0" />
<line x1="371.90" y1="273.25" x2="373.50" y2="273.25" stroke="#111" stroke-width="1.0" />
<line x1="657.50" y1="273.25" x2="659.10" y2="273.25" stroke="#111" stroke-width="1.0" />
<line x1="371.90" y1="267.00" x2="373.50" y2="267.00" stroke="#111" stroke-width="1.0" />
<line x1="657.50" y1="267.00" x2="659.10" y2="267.00" stroke="#111" stroke-width="1.0" />
<line x1="371.90" y1="260.75" x2="373.50" y2="260.75" stroke="#111" stroke-width="1.0" />
<line x1="657.50" y1="260.75" x2="659.10" y2="260.75" stroke="#111" stroke-width="1.0" />
<line x1="370.70" y1="254.50" x2="373.50" y2="254.50" stroke="#111" stroke-width="1.0" />
<line x1="657.50" y1="254.50" x2="660.30" y2="254.50" stroke="#111" stroke-width="1.0" />
<text x="366.60" y="257.10" font-size="9.6" font-family='"Liberation Serif", serif' fill="#111" text-anchor="end" textLength="11.6" lengthAdjust="spacingAndGlyphs" >0.3</text>
<text x="663.00" y="258.10" font-size="9.6" font-family='"Liberation Serif", serif' fill="#111" text-anchor="start" textLength="12.0" lengthAdjust="spacingAndGlyphs" >0.3</text>
<line x1="371.90" y1="248.25" x2="373.50" y2="248.25" stroke="#111" stroke-width="1.0" />
<line x1="657.50" y1="248.25" x2="659.10" y2="248.25" stroke="#111" stroke-width="1.0" />
<line x1="371.90" y1="242.00" x2="373.50" y2="242.00" stroke="#111" stroke-width="1.0" />
<line x1="657.50" y1="242.00" x2="659.10" y2="242.00" stroke="#111" stroke-width="1.0" />
<line x1="371.90" y1="235.75" x2="373.50" y2="235.75" stroke="#111" stroke-width="1.0" />
<line x1="657.50" y1="235.75" x2="659.10" y2="235.75" stroke="#111" stroke-width="1.0" />
<line x1="371.90" y1="229.50" x2="373.50" y2="229.50" stroke="#111" stroke-width="1.0" />
<line x1="657.50" y1="229.50" x2="659.10" y2="229.50" stroke="#111" stroke-width="1.0" />
<line x1="371.90" y1="223.25" x2="373.50" y2="223.25" stroke="#111" stroke-width="1.0" />
<line x1="657.50" y1="223.25" x2="659.10" y2="223.25" stroke="#111" stroke-width="1.0" />
<line x1="371.90" y1="217.00" x2="373.50" y2="217.00" stroke="#111" stroke-width="1.0" />
<line x1="657.50" y1="217.00" x2="659.10" y2="217.00" stroke="#111" stroke-width="1.0" />
<line x1="371.90" y1="210.75" x2="373.50" y2="210.75" stroke="#111" stroke-width="1.0" />
<line x1="657.50" y1="210.75" x2="659.10" y2="210.75" stroke="#111" stroke-width="1.0" />
<line x1="370.70" y1="204.50" x2="373.50" y2="204.50" stroke="#111" stroke-width="1.0" />
<line x1="657.50" y1="204.50" x2="660.30" y2="204.50" stroke="#111" stroke-width="1.0" />
<text x="366.60" y="207.10" font-size="9.6" font-family='"Liberation Serif", serif' fill="#111" text-anchor="end" textLength="11.6" lengthAdjust="spacingAndGlyphs" >0.5</text>
<text x="663.00" y="208.10" font-size="9.6" font-family='"Liberation Serif", serif' fill="#111" text-anchor="start" textLength="12.0" lengthAdjust="spacingAndGlyphs" >0.5</text>
<line x1="383.98" y1="304.50" x2="383.98" y2="307.50" stroke="#111" stroke-width="1.0" />
<line x1="525.98" y1="304.50" x2="525.98" y2="307.50" stroke="#111" stroke-width="1.0" />
<line x1="394.05" y1="304.50" x2="394.05" y2="306.70" stroke="#111" stroke-width="1.0" />
<line x1="536.05" y1="304.50" x2="536.05" y2="306.70" stroke="#111" stroke-width="1.0" />
<line x1="404.12" y1="304.50" x2="404.12" y2="307.50" stroke="#111" stroke-width="1.0" />
<line x1="546.12" y1="304.50" x2="546.12" y2="307.50" stroke="#111" stroke-width="1.0" />
<line x1="414.19" y1="304.50" x2="414.19" y2="306.70" stroke="#111" stroke-width="1.0" />
<line x1="556.19" y1="304.50" x2="556.19" y2="306.70" stroke="#111" stroke-width="1.0" />
<line x1="424.26" y1="304.50" x2="424.26" y2="307.50" stroke="#111" stroke-width="1.0" />
<line x1="566.26" y1="304.50" x2="566.26" y2="307.50" stroke="#111" stroke-width="1.0" />
<line x1="434.33" y1="304.50" x2="434.33" y2="306.70" stroke="#111" stroke-width="1.0" />
<line x1="576.33" y1="304.50" x2="576.33" y2="306.70" stroke="#111" stroke-width="1.0" />
<line x1="444.40" y1="304.50" x2="444.40" y2="307.50" stroke="#111" stroke-width="1.0" />
<line x1="586.40" y1="304.50" x2="586.40" y2="307.50" stroke="#111" stroke-width="1.0" />
<line x1="454.47" y1="304.50" x2="454.47" y2="306.70" stroke="#111" stroke-width="1.0" />
<line x1="596.47" y1="304.50" x2="596.47" y2="306.70" stroke="#111" stroke-width="1.0" />
<line x1="464.54" y1="304.50" x2="464.54" y2="307.50" stroke="#111" stroke-width="1.0" />
<line x1="606.54" y1="304.50" x2="606.54" y2="307.50" stroke="#111" stroke-width="1.0" />
<line x1="474.61" y1="304.50" x2="474.61" y2="306.70" stroke="#111" stroke-width="1.0" />
<line x1="616.61" y1="304.50" x2="616.61" y2="306.70" stroke="#111" stroke-width="1.0" />
<line x1="484.68" y1="304.50" x2="484.68" y2="307.50" stroke="#111" stroke-width="1.0" />
<line x1="626.68" y1="304.50" x2="626.68" y2="307.50" stroke="#111" stroke-width="1.0" />
<line x1="494.75" y1="304.50" x2="494.75" y2="306.70" stroke="#111" stroke-width="1.0" />
<line x1="636.75" y1="304.50" x2="636.75" y2="306.70" stroke="#111" stroke-width="1.0" />
<line x1="504.82" y1="304.50" x2="504.82" y2="307.50" stroke="#111" stroke-width="1.0" />
<line x1="646.82" y1="304.50" x2="646.82" y2="307.50" stroke="#111" stroke-width="1.0" />
<text x="404.12" y="316.30" font-size="9.6" font-family='"Liberation Serif", serif' fill="#111" text-anchor="middle" textLength="17.5" lengthAdjust="spacingAndGlyphs" >9.56</text>
<text x="546.12" y="316.30" font-size="9.6" font-family='"Liberation Serif", serif' fill="#111" text-anchor="middle" textLength="17.5" lengthAdjust="spacingAndGlyphs" >9.56</text>
<text x="444.40" y="316.30" font-size="9.6" font-family='"Liberation Serif", serif' fill="#111" text-anchor="middle" textLength="17.5" lengthAdjust="spacingAndGlyphs" >9.60</text>
<text x="586.40" y="316.30" font-size="9.6" font-family='"Liberation Serif", serif' fill="#111" text-anchor="middle" textLength="17.5" lengthAdjust="spacingAndGlyphs" >9.60</text>
<text x="484.68" y="316.30" font-size="9.6" font-family='"Liberation Serif", serif' fill="#111" text-anchor="middle" textLength="17.5" lengthAdjust="spacingAndGlyphs" >9.64</text>
<text x="626.68" y="316.30" font-size="9.6" font-family='"Liberation Serif", serif' fill="#111" text-anchor="middle" textLength="17.5" lengthAdjust="spacingAndGlyphs" >9.64</text>
<text x="474.90" y="330.30" font-size="11.5" font-family='"Liberation Serif", serif' fill="#111" text-anchor="start" textLength="85.7" lengthAdjust="spacingAndGlyphs" >Frequency [MHz]</text>
<text transform="translate(331.8,263) rotate(-90)" font-size="11.5" font-family='"Liberation Serif", serif' fill="#111" text-anchor="middle" style="stroke-width:.12px" textLength="99.3" lengthAdjust="spacingAndGlyphs">Spin flip probability</text>
<text transform="translate(347.0,262.5) rotate(-90)" font-size="11.5" font-family='"Liberation Serif", serif' fill="#111" text-anchor="middle" style="stroke-width:.12px" textLength="127" lengthAdjust="spacingAndGlyphs">(~ dark state population)</text>
<rect x="380.9" y="209.0" width="24.5" height="22.4" fill="#888888"/>
<text x="383.00" y="218.50" font-size="9.2" font-family='"Liberation Sans", sans-serif' fill="#fff" text-anchor="start" textLength="18.1" lengthAdjust="spacingAndGlyphs" class="w">dark</text>
<text x="383.00" y="228.10" font-size="9.2" font-family='"Liberation Sans", sans-serif' fill="#fff" text-anchor="start" textLength="20.2" lengthAdjust="spacingAndGlyphs" class="w">state</text>
<rect x="524.3" y="208.7" width="24.5" height="22.7" fill="#888888"/>
<text x="526.50" y="218.50" font-size="9.2" font-family='"Liberation Sans", sans-serif' fill="#fff" text-anchor="start" textLength="18.0" lengthAdjust="spacingAndGlyphs" class="w">dark</text>
<text x="526.50" y="228.10" font-size="9.2" font-family='"Liberation Sans", sans-serif' fill="#fff" text-anchor="start" textLength="20.4" lengthAdjust="spacingAndGlyphs" class="w">state</text>
<text x="411.30" y="296.80" font-size="12" font-family='"Liberation Serif", serif' fill="#111" text-anchor="start" textLength="67.1" lengthAdjust="spacingAndGlyphs" style="stroke-width:.38px">620 - 630 nm</text>
<text x="554.60" y="295.70" font-size="12" font-family='"Liberation Serif", serif' fill="#111" text-anchor="start" textLength="67.6" lengthAdjust="spacingAndGlyphs" style="stroke-width:.38px">432 - 456 nm</text>
<polyline points="383.00,291.95 383.61,291.87 384.23,291.79 384.84,291.70 385.45,291.61 386.07,291.52 386.68,291.42 387.29,291.32 387.90,291.22 388.52,291.12 389.13,291.01 389.74,290.90 390.36,290.78 390.97,290.67 391.58,290.54 392.20,290.42 392.81,290.29 393.42,290.15 394.04,290.02 394.65,289.87 395.26,289.73 395.87,289.57 396.49,289.41 397.10,289.25 397.71,289.08 398.33,288.91 398.94,288.72 399.55,288.54 400.17,288.34 400.78,288.14 401.39,287.93 402.01,287.71 402.62,287.48 403.23,287.25 403.84,287.00 404.46,286.75 405.07,286.49 405.68,286.21 406.30,285.92 406.91,285.63 407.52,285.32 408.14,284.99 408.75,284.66 409.36,284.30 409.97,283.94 410.59,283.56 411.20,283.16 411.81,282.74 412.43,282.30 413.04,281.84 413.65,281.37 414.27,280.86 414.88,280.34 415.49,279.79 416.11,279.22 416.72,278.61 417.33,277.98 417.94,277.32 418.56,276.62 419.17,275.89 419.78,275.12 420.40,274.31 421.01,273.46 421.62,272.56 422.24,271.62 422.85,270.64 423.46,269.60 424.08,268.50 424.69,267.35 425.30,266.14 425.91,264.87 426.53,263.53 427.14,262.13 427.75,260.66 428.37,259.11 428.98,257.49 429.59,255.79 430.21,254.02 430.82,252.17 431.43,250.25 432.05,248.25 432.66,246.18 433.27,244.05 433.88,241.86 434.50,239.61 435.11,237.33 435.72,235.02 436.34,232.71 436.95,230.40 437.56,228.12 438.18,225.90 438.79,223.77 439.40,221.74 440.02,219.86 440.63,218.15 441.24,216.64 441.85,215.37 442.47,214.35 443.08,213.60 443.69,213.15 444.31,213.00 444.92,213.16 445.53,213.61 446.15,214.36 446.76,215.39 447.37,216.67 447.98,218.18 448.60,219.90 449.21,221.78 449.82,223.81 450.44,225.95 451.05,228.17 451.66,230.45 452.28,232.76 452.89,235.07 453.50,237.38 454.12,239.66 454.73,241.90 455.34,244.10 455.95,246.23 456.57,248.29 457.18,250.29 457.79,252.21 458.41,254.06 459.02,255.83 459.63,257.52 460.25,259.14 460.86,260.69 461.47,262.16 462.09,263.56 462.70,264.90 463.31,266.17 463.92,267.38 464.54,268.53 465.15,269.62 465.76,270.66 466.38,271.64 466.99,272.58 467.60,273.48 468.22,274.33 468.83,275.13 469.44,275.90 470.06,276.63 470.67,277.33 471.28,277.99 471.89,278.63 472.51,279.23 473.12,279.80 473.73,280.35 474.35,280.88 474.96,281.38 475.57,281.85 476.19,282.31 476.80,282.75 477.41,283.16 478.03,283.56 478.64,283.95 479.25,284.31 479.86,284.66 480.48,285.00 481.09,285.32 481.70,285.63 482.32,285.93 482.93,286.22 483.54,286.49 484.16,286.76 484.77,287.01 485.38,287.25 485.99,287.49 486.61,287.71 487.22,287.93 487.83,288.14 488.45,288.34 489.06,288.54 489.67,288.73 490.29,288.91 490.90,289.09 491.51,289.25 492.13,289.42 492.74,289.58 493.35,289.73 493.96,289.88 494.58,290.02 495.19,290.16 495.80,290.29 496.42,290.42 497.03,290.55 497.64,290.67 498.26,290.79 498.87,290.90 499.48,291.01 500.10,291.12 500.71,291.22 501.32,291.32 501.93,291.42 502.55,291.52 503.16,291.61 503.77,291.70 504.39,291.79 505.00,291.87" fill="none" stroke="#ee2020" stroke-width="1.2"/>
<circle cx="383.2" cy="291.5" r="1.6" fill="#1c1c8c"/>
<circle cx="388.2" cy="291.5" r="1.6" fill="#1c1c8c"/>
<circle cx="393.1" cy="290.2" r="1.6" fill="#1c1c8c"/>
<circle cx="398.1" cy="289.9" r="1.6" fill="#1c1c8c"/>
<circle cx="403.7" cy="287.5" r="1.6" fill="#1c1c8c"/>
<circle cx="409" cy="286.6" r="1.6" fill="#1c1c8c"/>
<circle cx="413.9" cy="283.6" r="1.6" fill="#1c1c8c"/>
<circle cx="418.9" cy="279.3" r="1.6" fill="#1c1c8c"/>
<circle cx="423.8" cy="271" r="1.6" fill="#1c1c8c"/>
<circle cx="428.8" cy="261.4" r="1.6" fill="#1c1c8c"/>
<circle cx="434.4" cy="239.6" r="1.6" fill="#1c1c8c"/>
<circle cx="439.4" cy="223.1" r="1.6" fill="#1c1c8c"/>
<circle cx="444.3" cy="219.2" r="1.6" fill="#1c1c8c"/>
<circle cx="449.3" cy="216.5" r="1.6" fill="#1c1c8c"/>
<circle cx="454.2" cy="237" r="1.6" fill="#1c1c8c"/>
<circle cx="459.2" cy="256.2" r="1.6" fill="#1c1c8c"/>
<circle cx="464.2" cy="269.4" r="1.6" fill="#1c1c8c"/>
<circle cx="469.1" cy="278.3" r="1.6" fill="#1c1c8c"/>
<circle cx="474.7" cy="283.3" r="1.6" fill="#1c1c8c"/>
<circle cx="479.7" cy="281.9" r="1.6" fill="#1c1c8c"/>
<circle cx="484.6" cy="288.5" r="1.6" fill="#1c1c8c"/>
<circle cx="489.6" cy="289.9" r="1.6" fill="#1c1c8c"/>
<circle cx="494.9" cy="288.5" r="1.6" fill="#1c1c8c"/>
<circle cx="499.8" cy="291.5" r="1.6" fill="#1c1c8c"/>
<circle cx="504.8" cy="291.5" r="1.6" fill="#1c1c8c"/>
<polyline points="525.00,288.35 525.61,288.28 526.23,288.21 526.84,288.13 527.45,288.05 528.07,287.97 528.68,287.89 529.29,287.81 529.90,287.72 530.52,287.63 531.13,287.53 531.74,287.44 532.36,287.34 532.97,287.24 533.58,287.13 534.20,287.02 534.81,286.91 535.42,286.79 536.04,286.67 536.65,286.54 537.26,286.41 537.87,286.28 538.49,286.14 539.10,285.99 539.71,285.84 540.33,285.69 540.94,285.53 541.55,285.36 542.17,285.19 542.78,285.01 543.39,284.82 544.01,284.63 544.62,284.43 545.23,284.22 545.84,284.00 546.46,283.77 547.07,283.54 547.68,283.29 548.30,283.04 548.91,282.77 549.52,282.50 550.14,282.21 550.75,281.91 551.36,281.60 551.97,281.27 552.59,280.93 553.20,280.58 553.81,280.21 554.43,279.82 555.04,279.41 555.65,278.99 556.27,278.55 556.88,278.08 557.49,277.60 558.11,277.09 558.72,276.56 559.33,276.00 559.94,275.41 560.56,274.80 561.17,274.16 561.78,273.48 562.40,272.77 563.01,272.03 563.62,271.25 564.24,270.43 564.85,269.57 565.46,268.67 566.08,267.72 566.69,266.73 567.30,265.69 567.91,264.59 568.53,263.45 569.14,262.25 569.75,260.99 570.37,259.67 570.98,258.30 571.59,256.86 572.21,255.37 572.82,253.81 573.43,252.20 574.05,250.53 574.66,248.81 575.27,247.03 575.88,245.22 576.50,243.36 577.11,241.48 577.72,239.58 578.34,237.68 578.95,235.78 579.56,233.91 580.18,232.09 580.79,230.33 581.40,228.66 582.02,227.10 582.63,225.67 583.24,224.40 583.85,223.30 584.47,222.40 585.08,221.71 585.69,221.25 586.31,221.02 586.92,221.03 587.53,221.28 588.15,221.77 588.76,222.48 589.37,223.40 589.98,224.52 590.60,225.81 591.21,227.26 591.82,228.84 592.44,230.52 593.05,232.30 593.66,234.13 594.28,236.02 594.89,237.92 595.50,239.84 596.12,241.75 596.73,243.65 597.34,245.51 597.95,247.34 598.57,249.12 599.18,250.85 599.79,252.53 600.41,254.16 601.02,255.72 601.63,257.23 602.25,258.67 602.86,260.05 603.47,261.38 604.09,262.65 604.70,263.86 605.31,265.02 605.92,266.12 606.54,267.17 607.15,268.18 607.76,269.13 608.38,270.05 608.99,270.92 609.60,271.74 610.22,272.54 610.83,273.29 611.44,274.01 612.06,274.69 612.67,275.35 613.28,275.97 613.89,276.57 614.51,277.14 615.12,277.68 615.73,278.20 616.35,278.70 616.96,279.17 617.57,279.63 618.19,280.06 618.80,280.48 619.41,280.88 620.03,281.26 620.64,281.63 621.25,281.98 621.86,282.32 622.48,282.64 623.09,282.95 623.70,283.25 624.32,283.54 624.93,283.82 625.54,284.08 626.16,284.34 626.77,284.59 627.38,284.82 627.99,285.05 628.61,285.27 629.22,285.49 629.83,285.69 630.45,285.89 631.06,286.08 631.67,286.27 632.29,286.45 632.90,286.62 633.51,286.79 634.13,286.95 634.74,287.11 635.35,287.26 635.96,287.40 636.58,287.55 637.19,287.68 637.80,287.82 638.42,287.95 639.03,288.07 639.64,288.19 640.26,288.31 640.87,288.43 641.48,288.54 642.10,288.65 642.71,288.75 643.32,288.86 643.93,288.96 644.55,289.05 645.16,289.15 645.77,289.24 646.39,289.33 647.00,289.42" fill="none" stroke="#ee2020" stroke-width="1.2"/>
<circle cx="524.9" cy="288.4" r="1.6" fill="#1c1c8c"/>
<circle cx="530.5" cy="287.5" r="1.6" fill="#1c1c8c"/>
<circle cx="535.7" cy="285.8" r="1.6" fill="#1c1c8c"/>
<circle cx="540.7" cy="284.2" r="1.6" fill="#1c1c8c"/>
<circle cx="545.6" cy="284.8" r="1.6" fill="#1c1c8c"/>
<circle cx="550.6" cy="279.2" r="1.6" fill="#1c1c8c"/>
<circle cx="556.2" cy="276.9" r="1.6" fill="#1c1c8c"/>
<circle cx="561.2" cy="275.2" r="1.6" fill="#1c1c8c"/>
<circle cx="566.1" cy="269.3" r="1.6" fill="#1c1c8c"/>
<circle cx="571.1" cy="256.8" r="1.6" fill="#1c1c8c"/>
<circle cx="576" cy="243.9" r="1.6" fill="#1c1c8c"/>
<circle cx="581.6" cy="232.3" r="1.6" fill="#1c1c8c"/>
<circle cx="586.6" cy="221.5" r="1.6" fill="#1c1c8c"/>
<circle cx="591.8" cy="230.7" r="1.6" fill="#1c1c8c"/>
<circle cx="596.8" cy="241.9" r="1.6" fill="#1c1c8c"/>
<circle cx="601.4" cy="258.7" r="1.6" fill="#1c1c8c"/>
<circle cx="606.7" cy="271.6" r="1.6" fill="#1c1c8c"/>
<circle cx="611.7" cy="275.2" r="1.6" fill="#1c1c8c"/>
<circle cx="616.6" cy="279.2" r="1.6" fill="#1c1c8c"/>
<circle cx="621.6" cy="280.2" r="1.6" fill="#1c1c8c"/>
<circle cx="627.2" cy="282.5" r="1.6" fill="#1c1c8c"/>
<circle cx="632.1" cy="283.5" r="1.6" fill="#1c1c8c"/>
<circle cx="637.1" cy="284.2" r="1.6" fill="#1c1c8c"/>
<circle cx="642" cy="285.1" r="1.6" fill="#1c1c8c"/>
<circle cx="647" cy="289.1" r="1.6" fill="#1c1c8c"/>
</svg>
</body></html>
